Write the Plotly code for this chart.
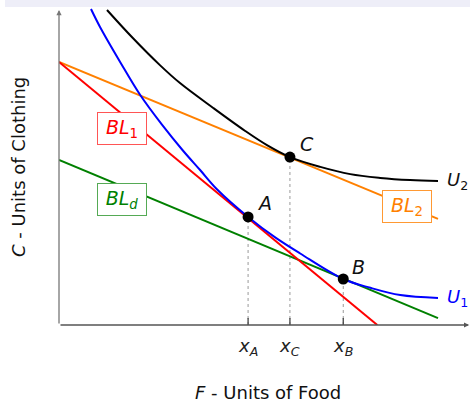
import plotly.graph_objects as go

# budget lines (endpoints)
bl1_x = [0.0, 7.76]
bl1_y = [8.35, 0.0]
bl2_x = [0.0, 9.24]
bl2_y = [8.35, 3.37]
bld_x = [0.0, 9.24]
bld_y = [5.24, 0.22]

# indifference curves
u1_x = [0.78, 1.00, 1.49, 1.98, 2.51, 3.02, 3.44, 3.85, 4.61, 5.27, 5.88, 6.93, 7.59, 8.32, 9.24]
u1_y = [10.03, 9.46, 8.35, 7.30, 6.36, 5.54, 4.92, 4.31, 3.43, 2.78, 2.27, 1.46, 1.18, 0.95, 0.86]
u2_x = [1.17, 1.80, 2.46, 2.95, 3.76, 4.54, 5.07, 5.63, 6.37, 7.10, 7.83, 8.56, 9.24]
u2_y = [10.0, 9.11, 8.25, 7.68, 6.89, 6.16, 5.71, 5.33, 5.02, 4.79, 4.67, 4.60, 4.57]

# optimum points
pt_names = ["A", "C", "B"]
pt_x = [4.61, 5.63, 6.93]
pt_y = [3.43, 5.33, 1.46]
tick_labels = ["<i>x<sub>A</sub></i>", "<i>x<sub>C</sub></i>", "<i>x<sub>B</sub></i>"]

FONT = "DejaVu Sans"

fig = go.Figure()

# dotted drop lines
for x, y in zip(pt_x, pt_y):
    fig.add_trace(go.Scatter(x=[x, x], y=[0, y], mode="lines",
                             line=dict(color="#999999", width=1, dash="dot"), hoverinfo="skip"))

fig.add_trace(go.Scatter(x=bld_x, y=bld_y, mode="lines", line=dict(color="#008000", width=2)))
fig.add_trace(go.Scatter(x=bl2_x, y=bl2_y, mode="lines", line=dict(color="#ff8000", width=2)))
fig.add_trace(go.Scatter(x=bl1_x, y=bl1_y, mode="lines", line=dict(color="#ff0000", width=2)))
fig.add_trace(go.Scatter(x=u2_x, y=u2_y, mode="lines", line=dict(color="black", width=2, shape="spline")))
fig.add_trace(go.Scatter(x=u1_x, y=u1_y, mode="lines", line=dict(color="#0000ff", width=2, shape="spline")))
fig.add_trace(go.Scatter(x=pt_x, y=pt_y, mode="markers", marker=dict(color="black", size=11)))

# axes with arrows
fig.add_annotation(x=10.0, y=0, ax=0, ay=0, xref="x", yref="y", axref="x", ayref="y",
                   showarrow=True, arrowhead=2, arrowsize=0.8, arrowwidth=1.3, arrowcolor="#555555", text="")
fig.add_annotation(x=0, y=10.0, ax=0, ay=0, xref="x", yref="y", axref="x", ayref="y",
                   showarrow=True, arrowhead=2, arrowsize=0.8, arrowwidth=1.3, arrowcolor="#777777", text="")

# ticks and tick labels
for x, lab in zip(pt_x, tick_labels):
    fig.add_shape(type="line", x0=x, x1=x, y0=-0.22, y1=0.22, line=dict(color="#444444", width=1.3))
    fig.add_annotation(x=x, y=(325 - 347) / 318, xref="x", yref="paper", text=lab, showarrow=False,
                       xanchor="center", yanchor="middle",
                       font=dict(family=FONT, size=18, color="#222222"))

# point labels
lab_x = [5.02, 6.05, 7.29]
lab_y = [3.87, 5.75, 1.84]
for name, x, y in zip(pt_names, lab_x, lab_y):
    fig.add_annotation(x=x, y=y, text=f"<i>{name}</i>", showarrow=False,
                       font=dict(family=FONT, size=19, color="#111111"))

fig.add_annotation(x=9.71, y=4.57, text="<i>U</i><sub>2</sub>", showarrow=False,
                   font=dict(family=FONT, size=18, color="#111111"))
fig.add_annotation(x=9.71, y=0.86, text="<i>U</i><sub>1</sub>", showarrow=False,
                   font=dict(family=FONT, size=18, color="#0000ff"))

# boxed budget line labels
box_style = dict(showarrow=False, bgcolor="white", borderwidth=1, borderpad=3, width=42, height=25)
fig.add_annotation(x=1.54, y=6.25, text="<i>BL</i><sub>1</sub>", bordercolor="#ff5555",
                   font=dict(family=FONT, size=19, color="#ff0000"), **box_style)
fig.add_annotation(x=1.54, y=3.97, text="<i>BL<sub>d</sub></i>", bordercolor="#55aa55",
                   font=dict(family=FONT, size=19, color="#008000"), **box_style)
fig.add_annotation(x=8.49, y=3.75, text="<i>BL</i><sub>2</sub>", bordercolor="#ff9933",
                   font=dict(family=FONT, size=19, color="#ff8000"), **box_style)

# axis titles
fig.add_annotation(x=(18 - 59) / 411, y=(325 - 167) / 318, xref="paper", yref="paper",
                   text="<i>C</i> - Units of Clothing", textangle=-90, showarrow=False,
                   xanchor="center", yanchor="middle",
                   font=dict(family=FONT, size=18, color="#111111"))
fig.add_annotation(x=(268 - 59) / 411, y=(325 - 392) / 318, xref="paper", yref="paper",
                   text="<i>F</i> - Units of Food", showarrow=False,
                   xanchor="center", yanchor="middle",
                   font=dict(family=FONT, size=18, color="#111111"))

# lavender strip at the very top
fig.add_shape(type="rect", xref="paper", yref="paper", x0=(5 - 59) / 411, x1=1.01,
              y0=(325 - 7) / 318, y1=1.05, fillcolor="#eeeef8", line=dict(width=0), layer="below")

fig.update_layout(
    width=470, height=404, autosize=False,
    margin=dict(l=59, r=0, t=7, b=79),
    showlegend=False,
    plot_bgcolor="white", paper_bgcolor="white",
    xaxis=dict(range=[0, 10.02], visible=False),
    yaxis=dict(range=[0, 10.095], visible=False),
)

fig.write_html("out.html", config={"displayModeBar": False},
               post_script="document.body.style.margin='0';")
